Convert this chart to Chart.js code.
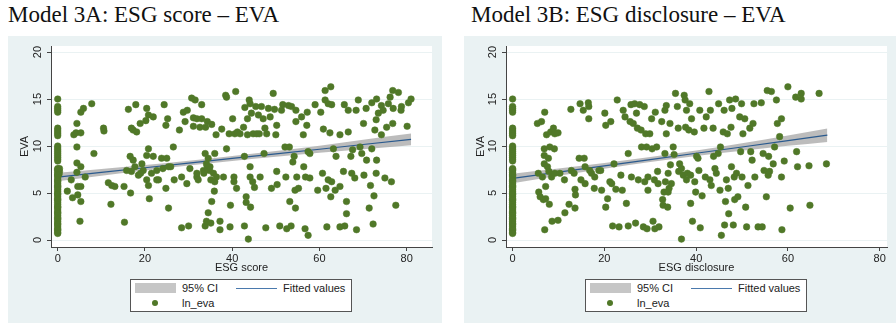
<!DOCTYPE html>
<html>
<head>
<meta charset="utf-8">
<script src="https://cdn.jsdelivr.net/npm/chart.js@4.4.1/dist/chart.umd.min.js"></script>
<style>
  body { margin: 0; width: 896px; height: 324px; background: #fff; position: relative; overflow: hidden; }
  .title { position: absolute; top: 2px; font-family: "Liberation Serif", "Times New Roman", serif; font-size: 23px; color: #111; white-space: nowrap; }
  .panel { position: absolute; top: 36px; height: 287px; background: #eaf2f3; }
  .panel canvas { position: absolute; left: 0; top: 0; }
  .legend { position: absolute; top: 243px; width: 220px; height: 31px; background: #fff; border: 1px solid #555;
            font-family: "Liberation Sans", Arial, sans-serif; font-size: 11px; color: #222; }
  .legend span { position: absolute; line-height: 12px; }
  .ci-key { position: absolute; left: 4px; top: 3px; width: 41px; height: 10px; background: #c6c6c6; }
  .fit-key { position: absolute; left: 105px; top: 8px; width: 41px; height: 1px; background: #4a79ad; }
  .dot-key { position: absolute; left: 21px; top: 20px; width: 6px; height: 6px; border-radius: 3px; background: rgb(80,120,40); }
</style>
</head>
<body>
<div class="title" style="left:8px">Model 3A: ESG score – EVA</div>
<div class="title" style="left:471px">Model 3B: ESG disclosure – EVA</div>

<div class="panel" style="left:8px; width:434px">
  <canvas id="chartA" width="434" height="287"></canvas>
  <div class="legend" style="left:122px">
    <div class="ci-key"></div><span style="left:51px; top:2px">95% CI</span>
    <div class="fit-key"></div><span style="left:152px; top:2px">Fitted values</span>
    <div class="dot-key"></div><span style="left:51px; top:17px">ln_eva</span>
  </div>
</div>
<div class="panel" style="left:464px; width:432px">
  <canvas id="chartB" width="432" height="287"></canvas>
  <div class="legend" style="left:121px">
    <div class="ci-key"></div><span style="left:51px; top:2px">95% CI</span>
    <div class="fit-key"></div><span style="left:152px; top:2px">Fitted values</span>
    <div class="dot-key"></div><span style="left:51px; top:17px">ln_eva</span>
  </div>
</div>

<script>
// tick labels
const xTicks = [0, 20, 40, 60, 80];
const yTicks = [0, 5, 10, 15, 20];

// firms with a zero score (x = 0), EVA values
const zeroColA = [15.0, 14.2, 14.0, 13.8, 13.6, 11.9, 11.7, 11.5, 11.3, 11.1, 10.0, 9.8, 9.6, 9.4, 9.2, 9.0, 8.8, 8.6, 8.4,
  7.6, 7.5, 7.4, 7.2, 7.0, 6.9, 6.8, 6.6, 6.4, 6.3, 6.2, 6.0, 5.8, 5.7, 5.6, 5.4, 5.2, 5.0, 4.9, 4.8, 4.6, 4.4, 4.3, 4.2,
  4.0, 3.8, 3.6, 3.5, 3.4, 3.2, 3.0, 2.9, 2.8, 2.6, 2.4, 2.3, 2.2, 2.0, 1.8, 1.7, 1.6, 1.4, 1.2, 1.1, 1.0, 0.8, 0.7];
const zeroColB = [15.0, 14.2, 14.0, 13.8, 13.6, 11.9, 11.7, 11.5, 11.3, 11.1, 10.0, 9.8, 9.6, 9.4, 9.2, 9.0, 8.8, 8.6, 8.4,
  7.6, 7.5, 7.4, 7.2, 7.0, 6.9, 6.8, 6.6, 6.4, 6.3, 6.2, 6.0, 5.8, 5.7, 5.6, 5.4, 5.2, 5.0, 4.9, 4.8, 4.6, 4.4, 4.3, 4.2,
  4.0, 3.8, 3.6, 3.5, 3.4, 3.2, 3.0, 2.9, 2.8, 2.6, 2.4, 2.3, 2.2, 2.0, 1.8, 1.7, 1.6, 1.4, 1.2, 1.1, 1.0, 0.8, 0.7];

// [ESG score, ln_eva]
const pointsA = [
  [0.4,7.6],[0.4,7.3],[0.3,7.0],
  [2.2,5.2],[3.1,6.4],[3.4,4.5],[3.7,11.2],[4.2,11.4],[4.4,12.4],[4.4,9.9],[4.4,8.2],[4.4,7.2],[4.6,5.7],[4.6,4.8],
  [5.1,2.0],[5.3,11.4],[5.3,13.6],[5.3,7.8],[5.3,5.7],[5.3,4.1],[5.9,14.0],[6.3,6.7],[7.8,14.5],[8.3,9.2],[10.5,11.9],
  [10.6,11.6],[11.6,6.1],[12.4,5.8],[12.2,3.8],[13.1,5.7],[15.2,5.7],[15.3,1.9],[16.2,13.9],[16.6,8.9],[16.7,5.0],
  [16.9,11.9],[17.3,11.7],[17.9,14.4],[17.7,7.8],[18.1,11.5],[16.9,7.3],[18.5,6.9],[18.9,12.4],[19.3,8.1],[19.6,7.4],
  [20.2,12.7],[20.4,14.0],[20.8,13.3],[20.8,9.7],[20.4,9.0],[20.4,6.4],[20.8,5.8],[21.0,4.4],[21.9,13.1],[21.9,8.9],
  [22.7,7.4],[23.1,6.4],[23.8,8.7],[24.4,14.4],[24.8,12.2],[25.0,8.7],[24.8,5.5],[25.2,12.9],[25.4,3.4],[25.4,7.8],
  [26.5,9.9],[26.7,6.4],[27.9,11.7],[28.4,6.7],[28.4,1.3],[28.8,13.6],[29.2,12.6],[29.7,13.8],[29.6,6.0],[30.0,1.5],
  [30.3,7.6],[30.7,15.1],[31.1,13.0],[31.1,12.1],[31.5,14.9],[31.9,12.9],[31.9,6.7],[32.2,6.4],[32.6,12.0],[33.0,12.9],
  [33.0,14.4],[33.4,7.4],[33.8,9.2],[33.8,1.5],[33.9,12.0],[34.1,2.0],[34.3,12.6],[34.3,7.8],[34.5,8.7],[34.5,2.9],
  [34.8,7.4],[35.1,1.8],[35.1,6.4],[35.3,12.3],[35.3,4.1],[35.7,7.1],[35.9,5.2],[36.0,9.2],[36.0,6.2],[36.3,11.2],
  [36.4,6.7],[37.2,2.0],[37.2,1.1],[37.6,11.8],[38.0,6.7],[38.5,15.4],[38.7,15.2],[38.7,9.7],[39.3,11.3],[39.5,1.4],
  [39.6,3.7],[40.1,12.9],[40.4,6.7],[40.4,6.2],[40.6,11.3],[40.8,15.8],[41.0,5.5],[41.2,11.5],[41.8,11.3],[42.6,12.0],
  [42.8,8.9],[42.8,1.5],[42.9,14.1],[43.2,4.6],[43.2,4.0],[43.5,12.9],[43.5,11.2],[43.7,0.1],[43.9,14.9],[44.1,14.5],
  [44.1,7.8],[44.1,6.7],[44.2,3.5],[44.4,13.5],[44.7,6.2],[44.8,11.3],[45.1,5.6],[45.4,14.2],[45.6,11.3],[46.0,13.3],
  [46.2,11.3],[46.4,6.7],[46.7,14.2],[47.1,12.9],[47.3,9.2],[47.5,11.9],[47.7,1.3],[47.9,11.3],[48.3,14.0],[48.7,13.1],
  [49.0,5.5],[49.4,15.6],[49.7,13.9],[50.0,11.2],[50.2,12.2],[50.2,7.3],[50.3,5.9],[50.9,1.5],[51.3,13.8],[51.6,14.4],
  [52.1,9.9],[52.3,6.7],[52.5,1.2],[52.9,14.3],[53.1,9.9],[53.2,4.1],[53.5,1.5],[53.6,14.2],[53.9,8.3],[54.2,8.9],
  [54.4,5.3],[54.5,3.4],[54.6,12.6],[54.6,13.8],[54.8,6.7],[55.2,5.5],[55.9,13.1],[56.3,11.2],[56.4,7.8],[56.7,1.2],
  [56.8,6.7],[57.1,12.2],[57.2,13.6],[57.4,9.4],[57.4,0.5],[57.8,9.2],[57.8,6.6],[59.0,14.4],[59.6,5.3],[60.3,13.6],
  [60.7,7.1],[60.9,11.8],[61.3,14.9],[61.3,15.9],[61.5,5.5],[61.7,1.4],[62.0,14.5],[62.0,6.4],[62.4,11.4],[62.6,16.3],
  [62.6,4.6],[62.8,14.4],[62.8,6.2],[63.2,9.7],[63.6,5.3],[63.8,8.9],[64.7,11.2],[64.7,5.7],[64.7,1.4],[65.5,7.3],
  [65.7,14.4],[65.8,1.5],[66.2,4.1],[66.2,2.8],[66.6,11.5],[66.6,13.8],[67.2,8.9],[67.4,7.1],[67.6,9.6],[68.1,6.6],
  [68.4,13.8],[68.5,1.1],[68.9,14.9],[69.3,9.9],[69.7,9.2],[70.1,12.4],[70.2,6.9],[70.7,14.0],[70.8,8.5],[71.4,3.4],
  [71.7,5.8],[72.0,14.6],[72.0,9.7],[72.3,1.7],[72.5,4.7],[72.7,11.7],[73.0,12.8],[73.0,7.1],[73.1,15.0],[73.1,8.5],
  [73.5,13.5],[74.2,11.2],[74.2,14.3],[74.6,13.8],[75.0,6.6],[75.4,12.0],[75.8,14.5],[76.2,15.2],[76.5,6.2],[76.8,12.4],
  [76.8,15.9],[76.9,14.0],[77.5,3.7],[78.1,15.7],[78.7,13.8],[78.8,14.2],[80.1,12.1],[80.4,14.6],[81.0,15.0],
  [15.8,7.4],[17.3,8.5],[19.0,7.1],[21.5,7.1],[22.7,6.4],[24.1,7.6],[25.9,7.8],[31.9,7.1],[33.5,7.1],[34.9,7.8],[34.1,8.1]
];

// [ESG disclosure, ln_eva]
const pointsB = [
  [5.4,12.4],[5.6,7.1],[5.7,5.1],[6.0,4.6],[6.3,12.6],[6.5,6.7],[6.7,4.3],[6.9,9.7],[6.9,9.0],[6.9,8.1],[7.0,1.1],
  [7.0,13.6],[7.2,5.7],[7.2,4.4],[7.4,11.2],[7.6,7.8],[7.8,8.7],[7.9,7.3],[8.0,3.8],[8.1,9.9],[8.3,11.5],[8.5,6.7],
  [8.6,2.0],[8.9,11.9],[9.1,9.7],[9.2,11.3],[9.2,7.1],[9.9,11.4],[9.9,2.1],[10.3,7.1],[11.3,6.4],[11.4,2.9],[12.3,3.8],
  [12.7,13.9],[12.8,7.4],[13.4,7.1],[13.6,5.4],[13.7,4.8],[13.6,3.4],[14.5,8.7],[14.7,14.5],[14.9,6.4],[15.4,13.8],
  [15.6,8.7],[15.8,7.8],[15.8,6.0],[16.5,14.6],[16.6,14.2],[16.6,12.9],[16.8,7.4],[17.2,7.1],[17.8,5.5],[17.9,6.7],
  [18.8,7.4],[19.2,7.4],[19.4,5.3],[20.1,13.5],[20.3,12.2],[20.3,3.5],[20.7,4.4],[21.2,6.2],[21.4,12.6],[21.6,6.0],
  [21.8,1.5],[22.1,8.1],[22.5,5.4],[22.8,14.9],[23.2,1.4],[23.6,6.9],[23.9,5.3],[24.1,13.8],[24.5,13.1],[24.8,3.9],
  [25.2,9.2],[25.2,1.5],[25.6,12.6],[25.8,14.4],[25.9,6.7],[26.3,12.4],[26.6,14.5],[26.8,1.8],[27.0,13.5],[27.2,11.9],
  [27.4,6.4],[27.7,14.4],[28.0,11.7],[28.1,9.9],[28.5,1.4],[28.7,14.2],[28.8,6.2],[29.0,11.3],[29.2,9.9],[29.3,1.2],
  [29.5,6.7],[29.5,5.3],[29.9,11.3],[30.3,12.9],[30.4,9.7],[30.6,2.0],[30.9,6.4],[31.0,1.2],[31.1,13.6],[31.4,9.9],
  [31.6,7.3],[31.7,6.0],[31.9,1.4],[32.5,12.6],[32.7,4.3],[32.8,3.7],[33.2,9.2],[33.2,13.8],[33.3,6.2],[33.5,14.3],
  [33.5,11.3],[33.8,3.5],[33.9,7.1],[34.1,5.5],[34.3,12.4],[34.4,8.0],[34.6,6.0],[35.0,9.9],[35.2,9.1],[35.5,15.6],
  [35.9,14.2],[36.1,11.9],[36.2,7.3],[36.4,8.1],[36.8,0.1],[37.2,6.9],[37.4,15.4],[37.6,14.9],[37.7,12.0],[37.9,13.8],
  [38.1,7.1],[38.4,11.7],[38.6,14.5],[38.8,3.9],[39.0,12.9],[39.2,2.0],[39.6,11.5],[39.7,6.2],[39.9,5.1],[40.1,8.9],
  [40.4,8.7],[40.8,13.8],[40.9,1.3],[41.3,4.7],[41.7,11.9],[42.2,13.1],[42.8,15.8],[43.0,6.4],[43.1,13.8],[43.7,11.9],
  [43.8,8.9],[44.1,7.6],[44.4,7.1],[44.8,9.2],[44.9,14.5],[45.2,5.3],[45.3,9.9],[45.5,0.5],[45.9,11.5],[46.1,13.8],
  [46.2,1.6],[46.4,4.1],[46.6,6.4],[46.8,11.3],[47.0,5.5],[47.1,2.8],[47.3,14.9],[47.6,12.0],[47.7,7.8],[47.8,14.0],
  [48.1,1.6],[48.3,6.7],[48.4,4.3],[48.6,15.0],[48.8,7.1],[49.1,4.6],[49.5,13.1],[49.7,9.4],[49.9,14.5],[50.0,6.7],
  [50.2,11.3],[50.6,12.9],[50.8,3.5],[51.0,1.4],[51.3,5.8],[51.7,11.9],[51.9,9.4],[52.2,8.5],[52.4,12.4],[52.6,14.5],
  [52.8,6.7],[53.5,1.4],[54.2,14.6],[54.4,1.4],[54.6,9.2],[54.8,7.4],[55.3,4.6],[55.5,15.9],[55.7,6.9],[55.8,8.9],
  [56.0,7.3],[56.4,15.8],[56.8,8.1],[57.1,9.9],[57.5,14.9],[57.7,12.4],[58.2,11.0],[58.6,12.9],[58.6,6.7],[58.7,1.1],
  [59.2,8.4],[60.0,16.3],[60.5,3.4],[61.7,15.2],[61.9,9.4],[62.1,7.8],[62.9,15.6],[62.9,15.0],[64.6,7.9],[64.8,3.7],
  [66.8,15.6],[68.4,8.1],
  [36.8,7.6],[37.9,6.4],[38.8,6.9],[40.6,7.4],[42.0,6.7],[43.3,5.8],[33.0,5.1],[33.9,5.1]
];

// fitted line and 95% CI, read at a few x positions
const ciXA = [0, 10, 20, 30, 40, 50, 60, 70, 81];
const fitA = [6.7, 7.19, 7.69, 8.18, 8.68, 9.17, 9.66, 10.16, 10.7];
const hiA = [7.15, 7.55, 7.99, 8.44, 8.94, 9.47, 10.04, 10.66, 11.32];
const loA = [6.25, 6.83, 7.39, 7.92, 8.42, 8.87, 9.28, 9.66, 10.08];

const ciXB = [0, 10, 20, 30, 40, 50, 60, 68.6];
const fitB = [6.55, 7.22, 7.89, 8.56, 9.23, 9.9, 10.57, 11.15];
const hiB = [7.05, 7.6, 8.19, 8.83, 9.53, 10.3, 11.12, 11.87];
const loB = [6.05, 6.84, 7.59, 8.29, 8.93, 9.5, 10.02, 10.43];

Chart.defaults.font.family = "'Liberation Sans', Arial, sans-serif";
Chart.defaults.font.size = 11;
Chart.defaults.color = "#222";

function xy(xs, ys) {
  return xs.map((x, i) => ({ x: x, y: ys[i] }));
}

function makeChart(id, points, zeroCol, ciX, fit, hi, lo, xMin, xMax, xTitle, yWidth, padRight) {
  const scatter = points.map((p) => ({ x: p[0], y: p[1] }))
    .concat(zeroCol.map((v) => ({ x: 0, y: v })));
  const ctx = document.getElementById(id).getContext("2d");
  return new Chart(ctx, {
    type: "scatter",
    data: {
      datasets: [
        {
          label: "ln_eva",
          data: scatter,
          pointRadius: 3.3,
          pointBackgroundColor: "rgb(80,120,40)",
          pointBorderColor: "rgb(80,120,40)",
          pointBorderWidth: 0.5,
        },
        {
          type: "line",
          label: "Fitted values",
          data: xy(ciX, fit),
          borderColor: "#2a5a8e",
          borderWidth: 1.2,
          pointRadius: 0,
          fill: false,
        },
        {
          type: "line",
          label: "95% CI",
          data: xy(ciX, hi),
          borderWidth: 0,
          borderColor: "rgba(0,0,0,0)",
          backgroundColor: "rgba(165,165,165,0.75)",
          pointRadius: 0,
          cubicInterpolationMode: "monotone",
          fill: "+1",
        },
        {
          type: "line",
          label: "ci low",
          data: xy(ciX, lo),
          borderWidth: 0,
          borderColor: "rgba(0,0,0,0)",
          pointRadius: 0,
          cubicInterpolationMode: "monotone",
          fill: false,
        },
      ],
    },
    options: {
      responsive: false,
      animation: false,
      devicePixelRatio: 1,
      layout: { padding: { left: 0, right: padRight, top: 10, bottom: 48 } },
      plugins: { legend: { display: false }, tooltip: { enabled: false } },
      scales: {
        x: {
          type: "linear",
          min: xMin,
          max: xMax,
          afterBuildTicks: (s) => { s.ticks = xTicks.map((v) => ({ value: v })); },
          afterFit: (s) => { s.height = 28; },
          grid: { drawOnChartArea: false, tickLength: 4, tickColor: "#444" },
          border: { color: "#444", width: 1 },
          ticks: { padding: 1, maxRotation: 0, color: "#222" },
          title: { display: true, text: xTitle, padding: 0, color: "#222" },
        },
        y: {
          type: "linear",
          min: -0.74,
          max: 20.64,
          afterBuildTicks: (s) => { s.ticks = yTicks.map((v) => ({ value: v })); },
          afterFit: (s) => { s.width = yWidth; },
          grid: { color: "#eaf2f3", lineWidth: 1, tickLength: 4, tickColor: "#444" },
          border: { color: "#444", width: 1 },
          ticks: { padding: 3, minRotation: 90, maxRotation: 90, crossAlign: "center", color: "#222" },
          title: { display: true, text: "EVA", padding: { top: 10, bottom: 0 }, color: "#222" },
        },
      },
    },
    plugins: [{
      id: "whiteArea",
      beforeDraw(chart) {
        const a = chart.chartArea;
        chart.ctx.save();
        chart.ctx.fillStyle = "#fff";
        chart.ctx.fillRect(a.left, a.top, a.right - a.left, a.bottom - a.top);
        chart.ctx.restore();
      },
    }],
  });
}

makeChart("chartA", pointsA, zeroColA, ciXA, fitA, hiA, loA, -1.54, 85.8, "ESG score", 43, 10);
makeChart("chartB", pointsB, zeroColB, ciXB, fitB, hiB, loB, -1.44, 81.6, "ESG disclosure", 42, 9);
</script>
</body>
</html>
